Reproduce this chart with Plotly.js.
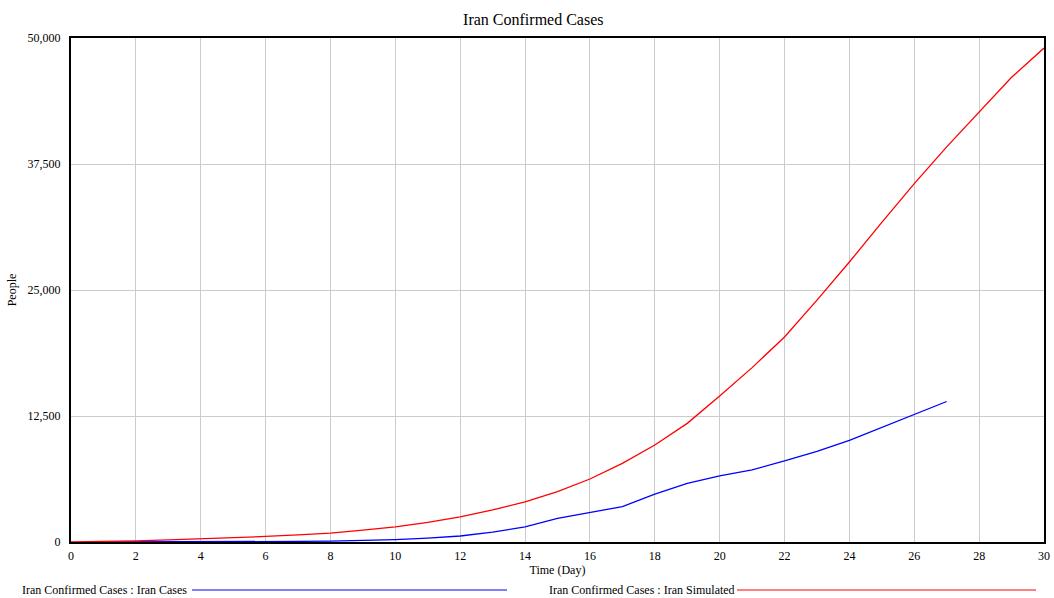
<!DOCTYPE html>
<html>
<head>
<meta charset="utf-8">
<script src="https://cdn.plot.ly/plotly-3.0.1.min.js"></script>
<style>html,body{margin:0;padding:0;background:#fff;}#chart{width:1054px;height:598px;}</style>
</head>
<body>
<div id="chart"></div>
<script>
// Data
const casesDays = [1,2,3,4,5,6,7,8,9,10,11,12,13,14,15,16,17,18,19,20,21,22,23,24,25,26,27];
const casesValues = [0,2,5,18,28,43,61,95,139,245,388,593,978,1501,2336,2922,3513,4747,5823,6566,7161,8042,9000,10075,11364,12729,13938];
const simDays = [0,1,2,3,4,5,6,7,8,9,10,11,12,13,14,15,16,17,18,19,20,21,22,23,24,25,26,27,28,29,30];
const simValues = [0,40,120,220,320,420,550,700,880,1180,1500,1950,2500,3180,3970,5000,6250,7800,9620,11770,14480,17300,20340,24000,27780,31700,35550,39200,42700,46100,49000];
const yTickVals = [0,12500,25000,37500,50000];
const yTickText = ["0","12,500","25,000","37,500","50,000"];
const seriesNames = ["Iran Confirmed Cases : Iran Cases","Iran Confirmed Cases : Iran Simulated"];
const seriesColors = ["#0000ff","#ff0000"];

const font = "Liberation Serif";

const traces = [
  {x: casesDays, y: casesValues, type: "scatter", mode: "lines", name: seriesNames[0],
   line: {color: seriesColors[0], width: 1.3}},
  {x: simDays, y: simValues, type: "scatter", mode: "lines", name: seriesNames[1],
   line: {color: seriesColors[1], width: 1.3}}
];

const layout = {
  width: 1054, height: 598,
  margin: {l: 71, r: 10, t: 38, b: 56},
  paper_bgcolor: "#fff", plot_bgcolor: "#fff",
  font: {family: font, size: 12, color: "#000"},
  showlegend: false,
  title: {text: "Iran Confirmed Cases", font: {family: font, size: 16, color: "#000"},
          x: 0.506, xanchor: "center", y: 1 - 19/598, yanchor: "middle", xref: "container", yref: "container"},
  xaxis: {
    range: [0, 30], dtick: 2, tick0: 0,
    showgrid: true, gridcolor: "#cccccc", gridwidth: 1,
    showline: true, linecolor: "#000", linewidth: 2, mirror: true,
    zeroline: false, ticks: "", ticklabelstandoff: 2,
    tickfont: {family: font, size: 12, color: "#000"},
    title: {text: "Time (Day)", font: {family: font, size: 12, color: "#000"}, standoff: 2}
  },
  yaxis: {
    range: [0, 50000], tickvals: yTickVals, ticktext: yTickText,
    showgrid: true, gridcolor: "#cccccc", gridwidth: 1,
    showline: true, linecolor: "#000", linewidth: 2, mirror: true,
    zeroline: false, ticks: "", ticklabelstandoff: 6,
    tickfont: {family: font, size: 12, color: "#000"},
    title: {text: "People", font: {family: font, size: 12, color: "#000"}, standoff: 8}
  },
  shapes: [
    {type: "line", xref: "paper", yref: "paper", x0: (192-71)/973, x1: (507-71)/973,
     y0: -(590-542)/504, y1: -(590-542)/504, line: {color: seriesColors[0], width: 1}},
    {type: "line", xref: "paper", yref: "paper", x0: (737-71)/973, x1: (1036-71)/973,
     y0: -(590-542)/504, y1: -(590-542)/504, line: {color: seriesColors[1], width: 1}}
  ],
  annotations: [
    {text: seriesNames[0], xref: "paper", yref: "paper", x: (189-71)/973, xanchor: "right",
     y: -(590-542)/504, yanchor: "middle", showarrow: false, font: {family: font, size: 12, color: "#000"}},
    {text: seriesNames[1], xref: "paper", yref: "paper", x: (737-71)/973, xanchor: "right",
     y: -(590-542)/504, yanchor: "middle", showarrow: false, font: {family: font, size: 12, color: "#000"}}
  ]
};

Plotly.newPlot("chart", traces, layout, {displayModeBar: false, staticPlot: true});
</script>
</body>
</html>
